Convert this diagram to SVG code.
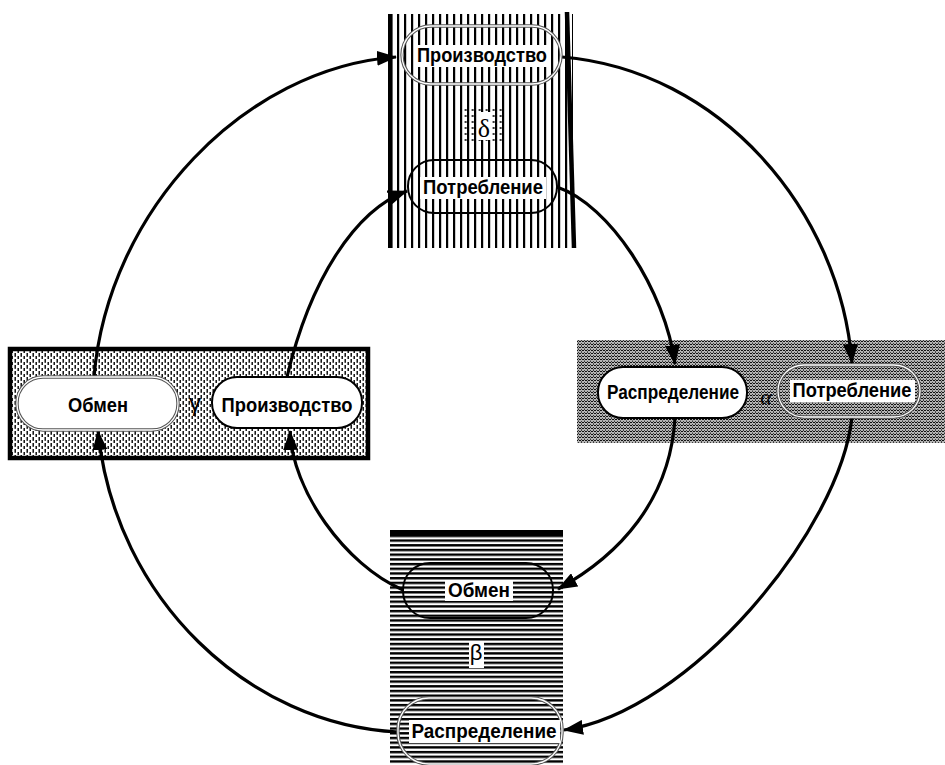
<svg xmlns="http://www.w3.org/2000/svg" width="945" height="765" viewBox="0 0 945 765">
<defs>
<style>
.lbl{font-family:"Liberation Sans",Arial,sans-serif;font-weight:bold;font-size:20px;fill:#000;text-anchor:middle}
.grk{font-family:"Liberation Serif","Times New Roman",serif;fill:#000;text-anchor:middle}
.grs{font-family:"Liberation Sans",Arial,sans-serif;fill:#000;text-anchor:middle}
.conn{fill:none;stroke:#000;stroke-width:3.2;marker-end:url(#ah)}
.solid{stroke:#000;stroke-width:2}
.dblo{fill:none;stroke:#555;stroke-width:3.4}
.dbli{fill:none;stroke:#fff;stroke-width:1.3}
.wbg{fill:#fff}
</style>
<marker id="ah" markerWidth="20" markerHeight="15" refX="19" refY="7.5" orient="auto" markerUnits="userSpaceOnUse">
<path d="M0,0 L20,7.5 L0,15 Z" fill="#000"/>
</marker>
<pattern id="vstripe" x="390" y="0" width="7" height="10" patternUnits="userSpaceOnUse">
<rect width="7" height="10" fill="#fff"/><rect x="0" y="0" width="2.2" height="10" fill="#000"/>
</pattern>
<pattern id="hstripe" x="0" y="530" width="10" height="4.7" patternUnits="userSpaceOnUse">
<rect width="10" height="4.7" fill="#fff"/><rect x="0" y="0" width="10" height="2.4" fill="#000"/>
</pattern>
<pattern id="dash" x="8" y="347" width="6" height="6" patternUnits="userSpaceOnUse">
<rect width="6" height="6" fill="#fff"/>
<rect x="0.5" y="0" width="1.4" height="3.8" fill="#000"/>
<rect x="3.5" y="3" width="1.4" height="3.8" fill="#000"/>
</pattern>
<pattern id="noise" x="577" y="340" width="6" height="6" patternUnits="userSpaceOnUse">
<rect width="6" height="6" fill="#b4b4b4"/>
<path d="M0,2 L1.5,0.5 L3,2 L4.5,0.5 L6,2 M0,5 L1.5,3.5 L3,5 L4.5,3.5 L6,5" fill="none" stroke="#111" stroke-width="1"/>
<rect x="1" y="2.5" width="1" height="1" fill="#333"/>
<rect x="4" y="5.2" width="1" height="0.8" fill="#333"/>
</pattern>
<pattern id="dots" x="393.5" y="108" width="7" height="6" patternUnits="userSpaceOnUse">
<circle cx="2.2" cy="2" r="1.1" fill="#000"/>
</pattern>
</defs>
<rect width="945" height="765" fill="#fff"/>

<g id="panel-delta">
<rect x="390" y="14" width="183" height="234" fill="url(#vstripe)"/>
<rect x="463" y="107" width="42" height="36" fill="url(#dots)"/>
<rect x="388" y="14" width="4.5" height="234" fill="#000"/>
<line x1="567" y1="12" x2="574" y2="248" stroke="#000" stroke-width="4.5"/>
</g>
<g id="panel-gamma">
<rect x="10" y="349" width="358" height="109" fill="url(#dash)" stroke="#000" stroke-width="4.5"/>
</g>
<g id="panel-alpha">
<rect x="577" y="340" width="368" height="103" fill="url(#noise)"/>
</g>
<g id="panel-beta">
<rect x="390" y="530" width="173" height="235" fill="url(#hstripe)"/>
<rect x="390" y="530" width="173" height="5" fill="#000"/>
</g>

<g id="connectors">
<path class="conn" d="M94,377 C108,210 245,68 396,57"/>
<path class="conn" d="M562,57 C720,70 840,210 852,363"/>
<path class="conn" d="M852,417 C840,530 690,712 564,730"/>
<path class="conn" d="M398,732 C250,725 115,600 98,431"/>
<path class="conn" d="M287,377 C310,280 355,210 407,191"/>
<path class="conn" d="M557,187 C610,205 665,290 675,364"/>
<path class="conn" d="M675,418 C670,500 620,555 558,589"/>
<path class="conn" d="M403,590 C345,565 292,490 290,431"/>
</g>

<g id="node-top-proizvodstvo">
<rect class="dblo" x="402" y="26" width="159" height="58" rx="29"/>
<rect class="dbli" x="402" y="26" width="159" height="58" rx="29"/>
<rect class="wbg" x="414" y="45" width="136" height="22"/>
<text class="lbl" x="482" y="62" textLength="130" lengthAdjust="spacingAndGlyphs">Производство</text>
</g>
<g id="node-top-potreblenie">
<rect x="408" y="160" width="149" height="53" rx="26" fill="none" class="solid"/>
<rect class="wbg" x="420" y="177" width="126" height="22"/>
<text class="lbl" x="483" y="194" textLength="120" lengthAdjust="spacingAndGlyphs">Потребление</text>
</g>
<g id="label-delta">
<rect class="wbg" x="477" y="112" width="15" height="28"/>
<text class="grk" x="484" y="137" font-size="26">δ</text>
</g>

<g id="node-left-obmen">
<rect x="17" y="377" width="161" height="53" rx="26" fill="#fff"/>
<rect class="dblo" x="17" y="377" width="161" height="53" rx="26"/>
<rect class="dbli" x="17" y="377" width="161" height="53" rx="26"/>
<text class="lbl" x="98" y="412" textLength="60" lengthAdjust="spacingAndGlyphs">Обмен</text>
</g>
<g id="label-gamma">
<text class="grs" x="195" y="411" font-size="24">γ</text>
</g>
<g id="node-left-proizvodstvo">
<rect x="212" y="377" width="150" height="51" rx="25" fill="#fff" class="solid"/>
<text class="lbl" x="287" y="412" textLength="131" lengthAdjust="spacingAndGlyphs">Производство</text>
</g>

<g id="node-right-raspredelenie">
<rect x="598" y="367" width="149" height="51" rx="25" fill="#fff" class="solid"/>
<text class="lbl" x="673" y="399" textLength="132" lengthAdjust="spacingAndGlyphs">Распределение</text>
</g>
<g id="label-alpha">
<text class="grk" x="766" y="404" font-size="22" font-style="italic">α</text>
</g>
<g id="node-right-potreblenie">
<rect class="dblo" x="778" y="365" width="142" height="52" rx="26"/>
<rect class="dbli" x="778" y="365" width="142" height="52" rx="26"/>
<rect class="wbg" x="790" y="380" width="125" height="22"/>
<text class="lbl" x="852" y="397" textLength="119" lengthAdjust="spacingAndGlyphs">Потребление</text>
</g>

<g id="node-bottom-obmen">
<rect x="403" y="563" width="150" height="55" rx="27" fill="none" class="solid"/>
<rect class="wbg" x="445" y="580" width="68" height="21"/>
<text class="lbl" x="479" y="597" textLength="62" lengthAdjust="spacingAndGlyphs">Обмен</text>
</g>
<g id="label-beta">
<rect class="wbg" x="469" y="641" width="15" height="27"/>
<text class="grs" x="476" y="660" font-size="22">β</text>
</g>
<g id="node-bottom-raspredelenie">
<rect class="dblo" x="398" y="698" width="164" height="66" rx="31"/>
<rect class="dbli" x="398" y="698" width="164" height="66" rx="31"/>
<rect class="wbg" x="409" y="720" width="151" height="23"/>
<text class="lbl" x="484" y="738" textLength="145" lengthAdjust="spacingAndGlyphs">Распределение</text>
</g>
</svg>
